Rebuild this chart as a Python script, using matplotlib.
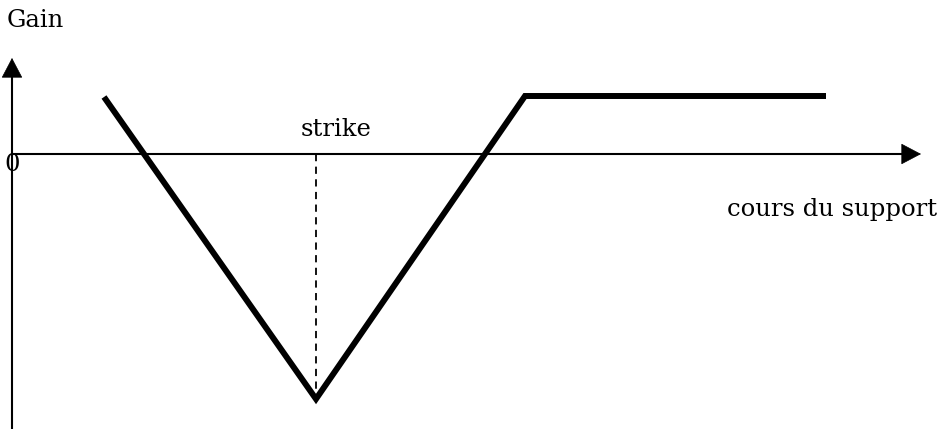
import matplotlib
matplotlib.use('Agg')
import matplotlib.pyplot as plt

# payoff profile (x = cours du support, y = gain), arbitrary units
cours = [9.2, 30.4, 51.3, 81.4]
gain = [5.7, -24.5, 5.8, 5.8]
strike = 30.4

# axis extents
x_axis_end = 90.9
y_axis_end = 9.6
y_axis_start = -27.6

fig = plt.figure(figsize=(9.38, 4.29), dpi=100)
ax = fig.add_axes([0, 0, 1, 1])
ax.set_xlim(-1.2, 92.6)
ax.set_ylim(-27.5, 15.4)
ax.axis('off')

font = dict(family='DejaVu Serif', fontsize=17.5, color='black')

# axes with arrow heads
ax.plot([0, x_axis_end - 1.5], [0, 0], color='black', lw=1.5, solid_capstyle='butt')
ax.plot([0, 0], [y_axis_start, y_axis_end - 1.5], color='black', lw=1.5, solid_capstyle='butt')
head = dict(arrowstyle='-|>,head_length=0.95,head_width=0.5',
            mutation_scale=14, color='black', lw=0.5, shrinkA=0, shrinkB=0)
ax.annotate('', xy=(x_axis_end, 0), xytext=(x_axis_end - 2.0, 0), arrowprops=head)
ax.annotate('', xy=(0, y_axis_end), xytext=(0, y_axis_end - 2.0), arrowprops=head)

# strike dashed line
ax.plot([strike, strike], [0, min(gain)], color='black', lw=1.3,
        linestyle=(0, (4, 3)))

# payoff line
ax.plot(cours, gain, color='black', lw=4.3, solid_joinstyle='miter', solid_capstyle='butt')

# labels
ax.text(-0.5, 14.5, 'Gain', ha='left', va='top', **font)
ax.text(0, 0.1, '0', ha='center', va='top', **font)
ax.text(strike + 2.0, 1.3, 'strike', ha='center', va='bottom', **font)
ax.text(71.5, -4.4, 'cours du support', ha='left', va='top', **font)

fig.savefig('out.png', dpi=100)
